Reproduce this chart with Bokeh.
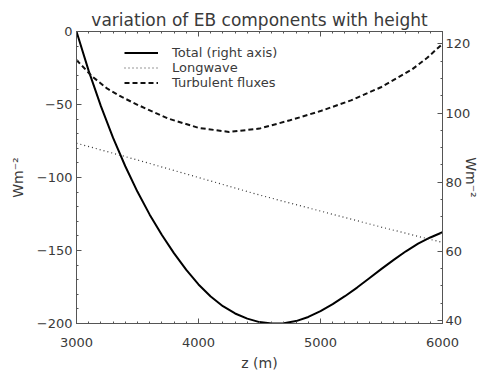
from bokeh.plotting import figure
from bokeh.models import (Range1d, LinearAxis, SingleIntervalTicker,
                          Legend, LegendItem)
from bokeh.embed import file_html
from bokeh.resources import INLINE

# ---- data ----
z_total = [3000, 3100, 3200, 3300, 3400, 3500, 3600, 3700, 3800, 3900,
           4000, 4100, 4200, 4300, 4400, 4500, 4600, 4700, 4800, 4900,
           5000, 5100, 5200, 5300, 5400, 5500, 5600, 5700, 5800, 5900, 6000]
total = [123.6, 112.2, 102.0, 92.8, 84.6, 77.2, 70.6, 64.7, 59.4, 54.6,
         50.4, 46.9, 44.1, 42.0, 40.5, 39.5, 39.1, 39.2, 39.8, 41.0,
         42.7, 44.7, 47.0, 49.5, 52.2, 54.9, 57.5, 60.0, 62.2, 64.0, 65.5]

z_lw = [3000, 3500, 4000, 4500, 5000, 5500, 6000]
longwave = [-76.5, -88.0, -100.0, -112.0, -123.0, -134.0, -144.5]

z_turb = [3000, 3125, 3250, 3375, 3500, 3750, 4000, 4250, 4500, 4750,
          5000, 5250, 5500, 5750, 5875, 6000]
turbulent = [-19.5, -30.5, -39.0, -45.0, -50.2, -59.6, -66.0, -68.8, -66.5,
             -60.8, -54.5, -47.2, -38.0, -26.0, -18.0, -8.5]

left_ticks = [0, -50, -100, -150, -200]
x_ticks = [3000, 4000, 5000, 6000]

title_text = "variation of EB components with height"
x_label = "z (m)"
y_label = "Wm\u207b\u00b2"
legend_labels = ["Total (right axis)", "Longwave", "Turbulent fluxes"]

FONT = "DejaVu Sans"
TXT = "#3a3a3a"
AX = "#555555"

p = figure(width=483, height=374, output_backend="svg", toolbar_location=None,
           x_range=Range1d(3000, 6000), y_range=Range1d(-200, 0),
           min_border_left=76, min_border_right=41, min_border_top=31,
           min_border_bottom=51, title=title_text)
p.extra_y_ranges = {"right": Range1d(39.1, 123.6)}
p.grid.visible = False
p.outline_line_color = AX
p.background_fill_color = "white"
p.border_fill_color = "white"

p.title.align = "center"
p.title.text_font = FONT
p.title.text_font_size = "17px"
p.title.text_font_style = "normal"
p.title.text_color = TXT
p.title.standoff = 4


def style_axis(ax):
    ax.axis_line_color = AX
    ax.major_tick_line_color = AX
    ax.minor_tick_line_color = AX
    ax.major_tick_in = 5
    ax.major_tick_out = 0
    ax.minor_tick_in = 2
    ax.minor_tick_out = 0
    ax.major_label_text_font = FONT
    ax.major_label_text_color = TXT
    ax.axis_label_text_font = FONT
    ax.axis_label_text_color = TXT
    ax.axis_label_text_font_style = "normal"
    ax.axis_label_text_font_size = "14px"
    ax.major_label_text_font_size = "13px"


def minus_overrides(vals):
    return {float(v): ("\u2212" + str(abs(v)) if v < 0 else str(v)) for v in vals}


xa = p.xaxis[0]
xa.ticker = SingleIntervalTicker(interval=1000, num_minor_ticks=10)
style_axis(xa)
xa.axis_label = x_label
xa.major_label_standoff = 14
xa.axis_label_standoff = 5

ya = p.yaxis[0]
ya.ticker = SingleIntervalTicker(interval=50, num_minor_ticks=5)
style_axis(ya)
ya.axis_label = y_label
ya.major_label_standoff = 4
ya.axis_label_standoff = 8
ya.major_label_overrides = minus_overrides(left_ticks)

# top axis: ticks only, no tick labels
top = LinearAxis(ticker=SingleIntervalTicker(interval=1000, num_minor_ticks=10))
style_axis(top)
top.major_label_text_font_size = "1px"
top.major_label_standoff = 0
top.major_label_overrides = {float(v): "" for v in x_ticks}
p.add_layout(top, "above")

# right axis for the total
ra = LinearAxis(y_range_name="right",
                ticker=SingleIntervalTicker(interval=20, num_minor_ticks=4))
style_axis(ra)
ra.major_label_standoff = 3
ra.axis_label = y_label
ra.axis_label_standoff = -10
p.add_layout(ra, "right")

r_total = p.line(z_total, total, y_range_name="right", line_color="black",
                 line_width=2)
r_lw = p.line(z_lw, longwave, line_color="#333333", line_width=1.2,
              line_dash="1 3")
r_turb = p.line(z_turb, turbulent, line_color="#111111", line_width=2,
                line_dash="5 3")

legend = Legend(items=[LegendItem(label=legend_labels[0], renderers=[r_total]),
                       LegendItem(label=legend_labels[1], renderers=[r_lw]),
                       LegendItem(label=legend_labels[2], renderers=[r_turb])],
                location=(48, 233))
legend.background_fill_alpha = 0
legend.border_line_alpha = 0
legend.label_text_font = FONT
legend.label_text_font_size = "13px"
legend.label_text_color = TXT
legend.glyph_width = 34
legend.glyph_height = 13
legend.label_height = 13
legend.label_standoff = 14
legend.spacing = 0
legend.padding = 0
legend.margin = 0
p.add_layout(legend)

open("out.html", "w").write(file_html(p, INLINE))
